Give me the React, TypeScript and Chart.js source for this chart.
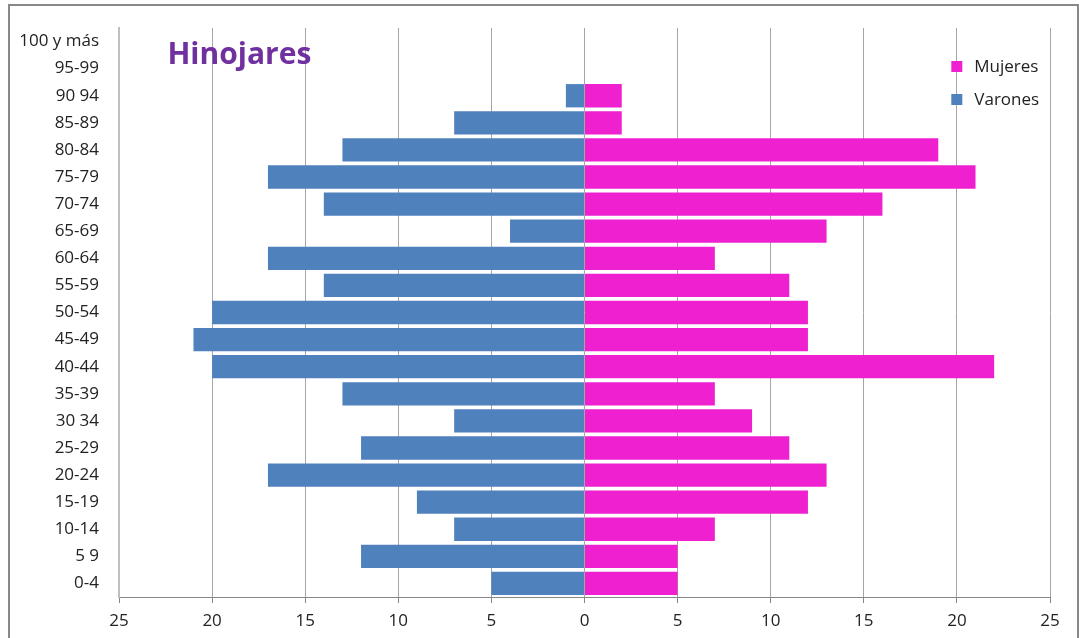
import React, { useEffect, useRef } from "react";
import { Chart, registerables } from "chart.js";

Chart.register(...registerables);

const categories = [
  "100 y más", "95-99", "90 94", "85-89", "80-84", "75-79", "70-74", "65-69",
  "60-64", "55-59", "50-54", "45-49", "40-44", "35-39", "30 34", "25-29",
  "20-24", "15-19", "10-14", "5 9", "0-4",
];
const varones = [0, 0, 1, 7, 13, 17, 14, 4, 17, 14, 20, 21, 20, 13, 7, 12, 17, 9, 7, 12, 5];
const mujeres = [0, 0, 2, 2, 19, 21, 16, 13, 7, 11, 12, 12, 22, 7, 9, 11, 13, 12, 7, 5, 5];
const xTicks = [-25, -20, -15, -10, -5, 0, 5, 10, 15, 20, 25];
const titleText = "Hinojares";
const legendItems = [
  { label: "Mujeres", color: "#EE20CF" },
  { label: "Varones", color: "#4F81BD" },
];

const FONT = "'Open Sans', 'DejaVu Sans', sans-serif";

const overlayPlugin = {
  id: "overlay",
  afterDraw(chart: any) {
    const ctx = chart.ctx;
    const x = chart.scales.x;
    const area = chart.chartArea;
    ctx.save();
    // title
    ctx.font = `bold 30px ${FONT}`;
    ctx.fillStyle = "#7030A0";
    ctx.textBaseline = "middle";
    ctx.textAlign = "left";
    ctx.fillText(titleText, x.getPixelForValue(-22.4), area.top + 27);
    // legend
    ctx.font = `17px ${FONT}`;
    legendItems.forEach((it, i) => {
      const cy = area.top + 39 + i * 33;
      const lx = x.getPixelForValue(19.7);
      ctx.fillStyle = it.color;
      ctx.fillRect(lx, cy - 6, 11, 11);
      ctx.fillStyle = "#222";
      ctx.textAlign = "left";
      ctx.fillText(it.label, lx + 23, cy);
    });
    ctx.restore();
  },
};

export default function App() {
  const ref = useRef<HTMLCanvasElement | null>(null);
  useEffect(() => {
    if (!ref.current) return;
    const chart = new Chart(ref.current, {
      type: "bar",
      data: {
        labels: categories,
        datasets: [
          {
            label: "Mujeres",
            data: mujeres,
            backgroundColor: "#EE20CF",
            barPercentage: 0.86,
            categoryPercentage: 1,
          },
          {
            label: "Varones",
            data: varones.map((v) => -v),
            backgroundColor: "#4F81BD",
            barPercentage: 0.86,
            categoryPercentage: 1,
          },
        ],
      },
      options: {
        indexAxis: "y",
        animation: false,
        responsive: true,
        maintainAspectRatio: false,
        layout: { padding: { top: 22, right: 27, left: 0, bottom: 0 } },
        plugins: {
          legend: { display: false },
          tooltip: { enabled: false },
          title: { display: false },
        },
        scales: {
          x: {
            stacked: true,
            min: -25,
            max: 25,
            afterBuildTicks: (scale: any) => {
              scale.ticks = xTicks.map((v) => ({ value: v }));
            },
            afterFit: (scale: any) => {
              scale.height = 41;
            },
            grid: {
              color: "#A6A6A6",
              lineWidth: 1,
              drawTicks: true,
              tickLength: 6,
              tickColor: "#868686",
            },
            border: { display: true, color: "#868686", width: 1 },
            ticks: {
              padding: 8,
              color: "#222",
              font: { family: FONT, size: 17 },
              callback: (v: any) => String(Math.abs(Number(v))),
            },
          },
          y: {
            stacked: true,
            afterFit: (scale: any) => {
              scale.width = 109;
              scale.paddingTop = 0;
              scale.paddingBottom = 0;
            },
            grid: { display: false, drawTicks: false },
            border: { display: true, color: "#BFBFBF", width: 2 },
            ticks: {
              padding: 20,
              color: "#222",
              autoSkip: false,
              font: { family: FONT, size: 17 },
            },
          },
        },
      },
      plugins: [overlayPlugin],
    });
    return () => chart.destroy();
  }, []);

  return (
    <div
      style={{
        position: "absolute",
        left: 8,
        top: 4,
        width: 1067,
        height: 632,
        border: "2px solid #888",
        borderBottom: "none",
        background: "#fff",
      }}
    >
      <div style={{ position: "relative", width: "100%", height: "100%" }}>
        <canvas ref={ref} />
      </div>
    </div>
  );
}
